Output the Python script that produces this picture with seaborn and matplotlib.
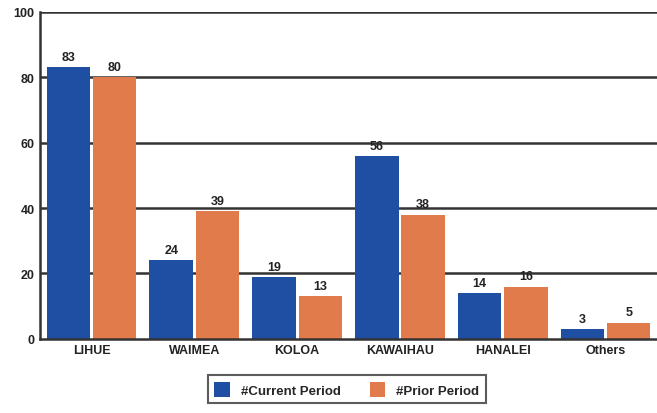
import seaborn as sns
import matplotlib.pyplot as plt
import pandas as pd

categories = ["LIHUE", "WAIMEA", "KOLOA", "KAWAIHAU", "HANALEI", "Others"]
current = [83, 24, 19, 56, 14, 3]
prior = [80, 39, 13, 38, 16, 5]
series = ["#Current Period", "#Prior Period"]

df = pd.DataFrame({
    "Area": categories * 2,
    "Value": current + prior,
    "Series": [series[0]] * len(categories) + [series[1]] * len(categories),
})

sns.set_theme(style="white")
plt.rcParams["font.family"] = ["Liberation Sans", "DejaVu Sans"]

fig = plt.figure(figsize=(6.57, 4.14), dpi=100)
ax = fig.add_axes([0.061, 0.179, 0.939, 0.79])
sns.barplot(data=df, x="Area", y="Value", hue="Series", ax=ax,
            palette=["#1f4fa3", "#e27b4c"], width=0.9, gap=0.06,
            saturation=1, edgecolor="none")

for c in ax.containers:
    ax.bar_label(c, padding=3, fontsize=9, fontweight="bold", color="#222222")

ax.set_ylim(0, 100)
ax.set_yticks([0, 20, 40, 60, 80, 100])
for y in [20, 40, 60, 80, 100]:
    ax.axhline(y, color="#333333", lw=1.8, zorder=0)
ax.set_xlabel("")
ax.set_ylabel("")
ax.tick_params(axis="both", labelsize=9, length=0, pad=4)
for t in ax.get_xticklabels() + ax.get_yticklabels():
    t.set_fontweight("bold")
    t.set_color("#222222")
sns.despine(ax=ax, top=True, right=True)
ax.spines["left"].set_color("#333333")
ax.spines["left"].set_linewidth(1.8)
ax.spines["bottom"].set_color("#333333")
ax.spines["bottom"].set_linewidth(1.8)

leg = ax.legend(loc="upper center", bbox_to_anchor=(0.497, -0.09), ncol=2,
                frameon=True, fancybox=False, edgecolor="#333333",
                handlelength=1.2, handleheight=1.4, columnspacing=2.2,
                borderpad=0.5, prop={"weight": "bold", "size": 9.5})
leg.get_frame().set_linewidth(1.5)

fig.savefig("out.png", dpi=100)
